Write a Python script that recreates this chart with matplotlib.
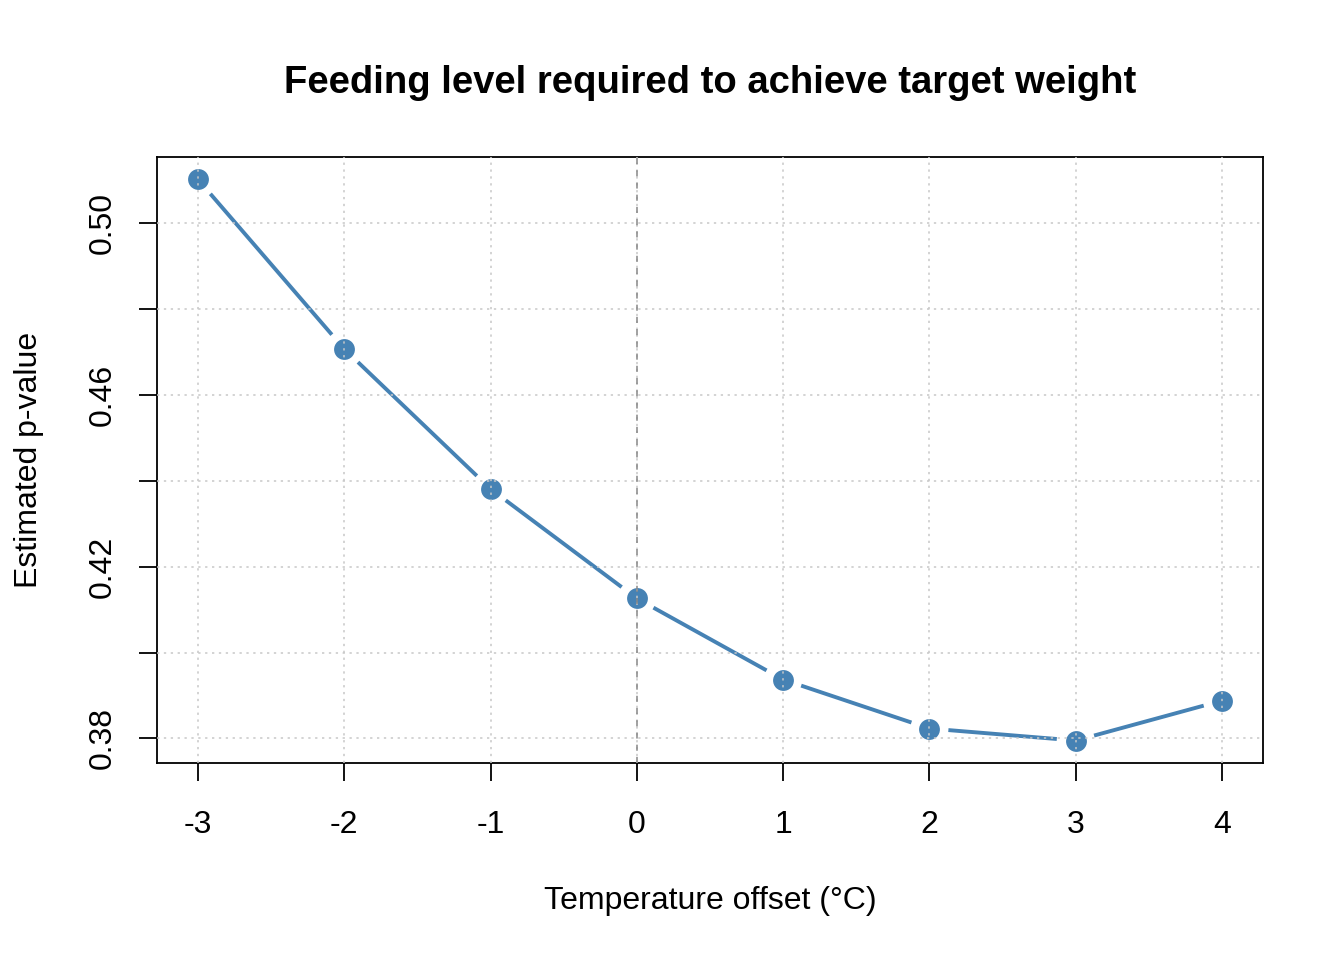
import matplotlib
matplotlib.use("Agg")
import matplotlib.pyplot as plt
import numpy as np

plt.rcParams['font.family'] = ['Liberation Sans', 'DejaVu Sans']

# temperature offsets and feeding level estimates
offsets = [-3, -2, -1, 0, 1, 2, 3, 4]
p_values = [0.5102, 0.4707, 0.4381, 0.4126, 0.3937, 0.3823, 0.3795, 0.3888]

y_ticks = [0.38, 0.40, 0.42, 0.44, 0.46, 0.48, 0.50]
y_tick_labels = ['0.38', '', '0.42', '', '0.46', '', '0.50']

col = '#4682B4'

fig = plt.figure(figsize=(13.44, 9.6), dpi=100)
ax = fig.add_axes([157 / 1344, 197 / 960, 1106 / 1344, 606 / 960])

x = np.array(offsets, dtype=float)
y = np.array(p_values)
xr = x.max() - x.min()
yr = y.max() - y.min()
ax.set_xlim(x.min() - 0.04 * xr, x.max() + 0.04 * xr)
ax.set_ylim(y.min() - 0.04 * yr, y.max() + 0.04 * yr)

# R style type="b": line segments with a gap around each point
pix = ax.transData.transform(np.column_stack([x, y]))
gap = 19
inv = ax.transData.inverted()
for i in range(len(pix) - 1):
    p0, p1 = pix[i], pix[i + 1]
    d = p1 - p0
    n = np.hypot(*d)
    if n <= 2 * gap:
        continue
    u = d / n
    seg = inv.transform(np.array([p0 + u * gap, p1 - u * gap]))
    ax.plot(seg[:, 0], seg[:, 1], color=col, lw=2.8, solid_capstyle='butt', zorder=2)

ax.plot(x, y, 'o', color=col, markersize=15, markeredgewidth=0, zorder=3)

# grid over the points, as in the original
for xv in offsets:
    ax.axvline(xv, color='#c8c8c8', lw=1.1, ls=(0, (1.5, 3)), zorder=4)
for yv in y_ticks:
    ax.axhline(yv, color='#c8c8c8', lw=1.1, ls=(0, (1.5, 3)), zorder=4)
ax.axvline(0, color='#888888', lw=1.1, ls=(0, (4, 4)), zorder=5)

ax.set_xticks(offsets)
ax.set_xticklabels([str(v) for v in offsets])
ax.set_yticks(y_ticks)
ax.set_yticklabels(y_tick_labels, rotation=90, va='center')
ax.tick_params(axis='both', length=13, width=1.3, labelsize=23, color='black')
ax.tick_params(axis='x', pad=21)
ax.tick_params(axis='y', pad=15)

for s in ax.spines.values():
    s.set_linewidth(1.3)

ax.set_title('Feeding level required to achieve target weight',
             fontsize=27.5, fontweight='bold', pad=46)
ax.set_xlabel('Temperature offset (°C)', fontsize=23, labelpad=33)
ax.set_ylabel('Estimated p-value', fontsize=23, labelpad=32)

fig.savefig('out.png', dpi=100)
